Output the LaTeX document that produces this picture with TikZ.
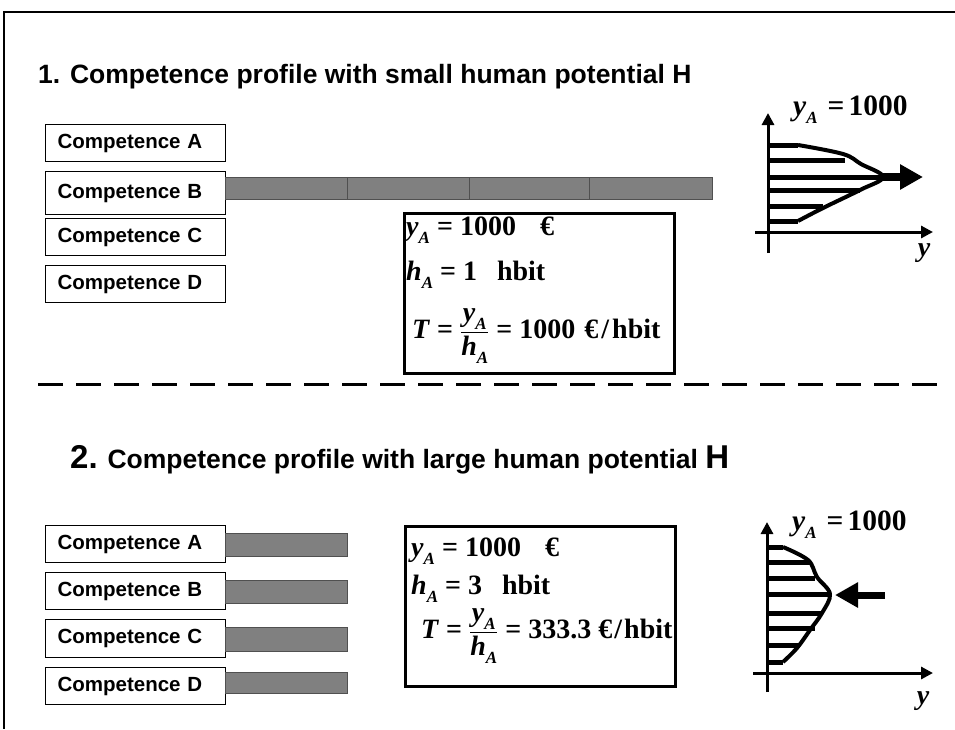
\documentclass[tikz,border=0pt]{standalone}
\usepackage{fontspec}
\setmainfont{Liberation Sans}
\newfontfamily\tms{Liberation Serif}
\usepackage{tikz}
\usetikzlibrary{positioning,arrows.meta}
\definecolor{barGray}{HTML}{808080}
\definecolor{barEdge}{HTML}{505050}
% italic letter with a lowered index, as in the formula boxes
\newcommand{\varsub}[2]{\textit{#1}\raisebox{-8pt}{\fontsize{17}{17}\selectfont\itshape #2}}
\newcommand{\cbox}[4]{%
 \node[compbox, minimum height=#4] (#2) at (45,#1) {Competence #3};}

\begin{document}
\begin{tikzpicture}[x=1pt,y=-1pt,
  compbox/.style={draw=black, line width=1.2pt, fill=white, text width=156pt, inner xsep=12pt, inner ysep=0pt, align=left, anchor=north west, font=\fontsize{20.5}{24}\selectfont\bfseries},
  bar/.style={draw=barEdge, fill=barGray, line width=0.8pt, inner sep=0pt, anchor=north west, minimum width=122pt},
  fbox/.style={draw=black, line width=3pt, inner sep=0pt, anchor=north west, minimum width=270pt, minimum height=160pt},
  ftext/.style={anchor=base west, inner sep=0pt, font=\tms\bfseries\fontsize{28}{30}\selectfont},
  glabel/.style={anchor=base west, inner sep=0pt, font=\tms\bfseries\fontsize{29.5}{30}\selectfont},
  title/.style={anchor=base west, inner sep=0pt, font=\fontsize{26.5}{30}\selectfont\bfseries},
  axis/.style={line width=3pt, -{Triangle[length=12pt,width=12pt]}},
  hatch/.style={line width=5pt},
  profile/.style={line width=4pt, line join=round}]
\useasboundingbox (0,0) rectangle (955,729);
\draw[line width=2pt] (955,12) -- (4,12) -- (4,729);

% part 1: small human potential
\node[title] (t1) at (38,83) {1. Competence profile with small human potential H};
\cbox{124}{ca1}{A}{37pt}
\cbox{171}{cb1}{B}{43pt}
\cbox{218}{cc1}{C}{37pt}
\cbox{265}{cd1}{D}{37pt}
\node[bar, minimum height=22pt] (bb1) at (225,177) {};
\node[bar, minimum height=22pt] (bb2) at (347,177) {};
\node[bar, minimum height=22pt] (bb3) at (469,177) {};
\node[bar, minimum height=22pt, minimum width=123pt] (bb4) at (589,177) {};
\node[fbox] (f1) at (403,212) {};
\node[ftext] (f1y) at (406,235) {\varsub{y}{A} = 1000\hspace{24pt}€};
\node[ftext] (f1h) at (406,280) {\varsub{h}{A} = 1\hspace{20pt}hbit};
\node[ftext] (f1t) at (412,338) {\textit{T} = $\displaystyle\frac{\mbox{\varsub{y}{A}}}{\mbox{\varsub{h}{A}}}$ = 1000\hspace{9pt}€\hspace{3pt}/\hspace{3pt}hbit};

% profile 1
\draw[axis] (768,253) -- (768,113);
\draw[axis] (755,232) -- (933,232);
\foreach \yy/\xx in {145/798,160/845,177/883,190/860,206/823,221/798}
  \draw[hatch] (768,\yy) -- (\xx,\yy);
\draw[profile] plot[smooth, tension=0.6] coordinates {(798,145) (843,154) (861,164) (883,177) (860,190) (823,208) (798,221)};
\draw[line width=8pt, -{Triangle[length=23pt,width=24pt]}] (883,177) -- (923,177);
\node[glabel] (g1) at (793,115) {\varsub{y}{A}\hspace{10pt}=\hspace{4pt}1000};
\node[ftext, anchor=center] (g1y) at (924,253) {\textit{y}};

\draw[line width=3pt, dash pattern=on 25pt off 13pt] (38,384) -- (945,384);

% part 2: large human potential
\node[title] (t2) at (70,468) {{\fontsize{33}{36}\selectfont 2.} Competence profile with large human potential {\fontsize{33}{36}\selectfont H}};
\cbox{525}{ca2}{A}{37pt}
\cbox{572}{cb2}{B}{37pt}
\cbox{619}{cc2}{C}{38pt}
\cbox{667}{cd2}{D}{37pt}
\node[bar, minimum height=23pt] (ba) at (225,533) {};
\node[bar, minimum height=23pt] (bb) at (225,580) {};
\node[bar, minimum height=24pt] (bc) at (225,627) {};
\node[bar, minimum height=21pt] (bd) at (225,672) {};
\node[fbox] (f2) at (404,525) {};
\node[ftext] (f2y) at (411,556) {\varsub{y}{A} = 1000\hspace{24pt}€};
\node[ftext] (f2h) at (411,594) {\varsub{h}{A} = 3\hspace{20pt}hbit};
\node[ftext] (f2t) at (421,638) {\textit{T} = $\displaystyle\frac{\mbox{\varsub{y}{A}}}{\mbox{\varsub{h}{A}}}$ = 333.3\hspace{7pt}€\hspace{2pt}/\hspace{2pt}hbit};

% profile 2
\draw[axis] (767,692) -- (767,522);
\draw[axis] (753,673) -- (933,673);
\foreach \yy/\xx in {547/783,562/810,578/815,594/830,613/822,628/815,645/800,662/783}
  \draw[hatch] (767,\yy) -- (\xx,\yy);
\draw[profile] plot[smooth, tension=0.6] coordinates {(783,547) (808,560) (817,577) (830,594) (822,613) (810,630) (797,648) (783,662)};
\draw[line width=7pt, -{Triangle[length=23pt,width=24pt]}] (885,595) -- (835,595);
\node[glabel] (g2) at (792,530) {\varsub{y}{A}\hspace{10pt}=\hspace{4pt}1000};
\node[ftext, anchor=center] (g2y) at (923,701) {\textit{y}};
\end{tikzpicture}
\end{document}
